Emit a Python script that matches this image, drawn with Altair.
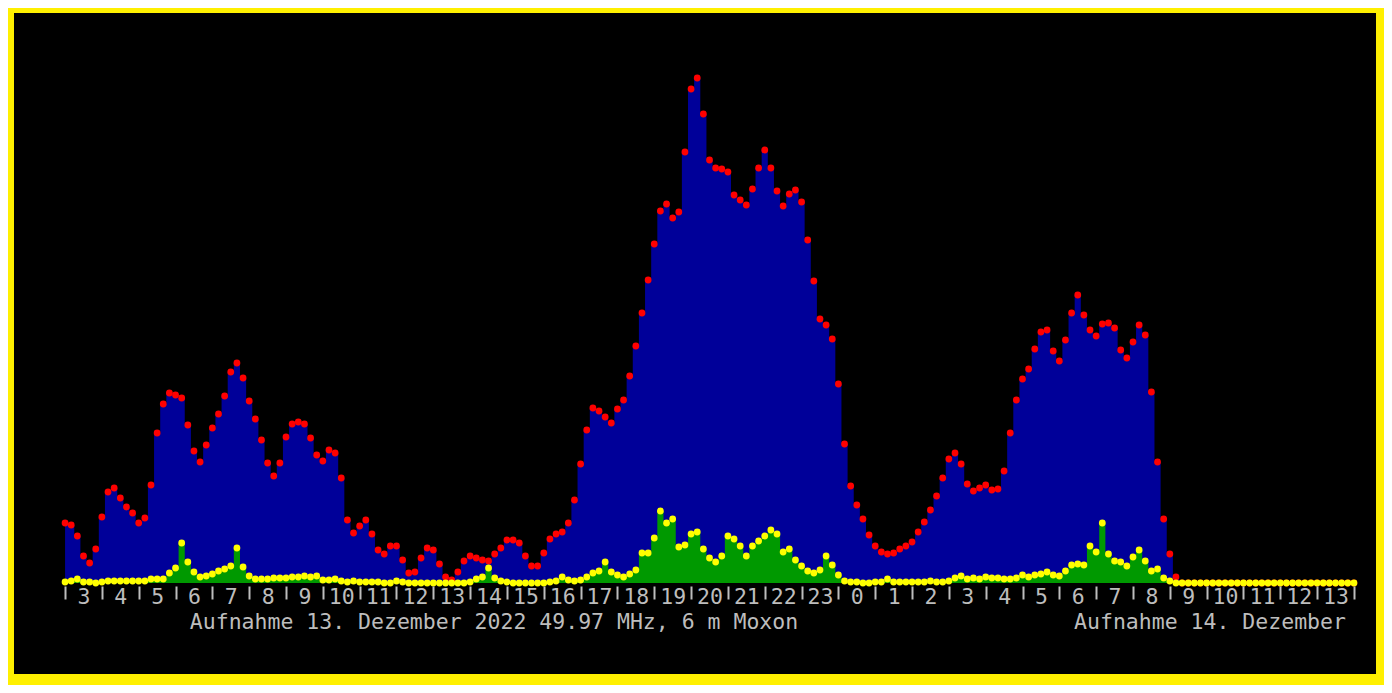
import json
import altair as alt
import pandas as pd

# 10-minute bins starting 13 Dec 03:00 local, ending 14 Dec 14:00
hour_labels = ["3", "4", "5", "6", "7", "8", "9", "10", "11", "12", "13", "14", "15", "16",
               "17", "18", "19", "20", "21", "22", "23", "0", "1", "2", "3", "4", "5", "6",
               "7", "8", "9", "10", "11", "12", "13"]

# all echoes (blue) per bin
total_counts = [
    60, 58, 47, 27, 20, 34, 66, 91, 95, 85,
    76, 70, 60, 65, 98, 150, 179, 190, 188, 185,
    158, 132, 121, 138, 155, 169, 187, 211, 220, 205,
    182, 164, 143, 120, 107, 120, 146, 159, 161, 159,
    145, 128, 122, 133, 130, 105, 63, 50, 57, 63,
    49, 33, 29, 37, 37, 23, 10, 11, 25, 35,
    33, 19, 6, 3, 11, 22, 27, 25, 23, 22,
    29, 35, 43, 43, 40, 27, 17, 17, 30, 44,
    49, 51, 60, 83, 119, 153, 175, 172, 166, 160,
    174, 183, 207, 237, 270, 303, 339, 372, 379, 365,
    371, 431, 494, 505, 469, 423, 415, 414, 411, 388,
    383, 378, 394, 415, 433, 415, 392, 377, 389, 393,
    381, 343, 302, 264, 258, 244, 199, 139, 97, 78,
    64, 48, 37, 31, 29, 30, 34, 37, 41, 51,
    61, 73, 87, 105, 124, 130, 119, 99, 92, 95,
    98, 93, 94, 112, 150, 183, 204, 214, 234, 251,
    253, 232, 222, 243, 270, 288, 268, 253, 247, 259,
    260, 255, 233, 225, 241, 258, 248, 191, 121, 64,
    29, 6, 0, 0, 0, 0, 0, 0, 0, 0,
    0, 0, 0, 0, 0, 0, 0, 0, 0, 0,
    0, 0, 0, 0, 0, 0, 0, 0, 0, 0,
    0,
]

# strong echoes (green) per bin
strong_counts = [
    1, 2, 4, 1, 1, 0, 1, 2, 2, 2,
    2, 2, 2, 2, 4, 4, 4, 10, 15, 40,
    21, 11, 6, 7, 9, 12, 14, 17, 35, 16,
    7, 4, 4, 4, 5, 5, 5, 6, 6, 7,
    6, 7, 3, 3, 4, 2, 1, 2, 1, 1,
    1, 1, 0, 0, 2, 1, 0, 0, 0, 0,
    0, 0, 0, 0, 0, 0, 1, 4, 6, 15,
    5, 2, 1, 0, 0, 0, 0, 0, 0, 1,
    2, 6, 3, 2, 3, 6, 10, 12, 21, 11,
    8, 6, 9, 13, 30, 30, 45, 72, 60, 64,
    36, 38, 49, 51, 34, 25, 21, 27, 47, 44,
    37, 27, 37, 42, 47, 53, 49, 31, 34, 23,
    17, 12, 10, 13, 27, 18, 8, 2, 1, 1,
    0, 0, 1, 1, 4, 1, 1, 1, 1, 1,
    1, 2, 1, 1, 2, 5, 7, 4, 5, 4,
    6, 5, 5, 4, 4, 5, 8, 6, 8, 9,
    11, 8, 7, 12, 18, 19, 18, 37, 31, 60,
    29, 22, 21, 17, 26, 33, 22, 12, 14, 5,
    2, 0, 0, 0, 0, 0, 0, 0, 0, 0,
    0, 0, 0, 0, 0, 0, 0, 0, 0, 0,
    0, 0, 0, 0, 0, 0, 0, 0, 0, 0,
    0,
]

caption_left = "Aufnahme 13. Dezember 2022 49.97 MHz, 6 m Moxon"
caption_right = "Aufnahme 14. Dezember"

df = pd.DataFrame({
    "bin": list(range(len(total_counts))),
    "total": total_counts,
    "strong": strong_counts,
})

n = len(total_counts)
FONT = "DejaVu Sans Mono"
GREY = "#bdbdbd"

label_expr = (
    "datum.value % 6 === 3 ? " + json.dumps(hour_labels)
    + "[floor(datum.value / 6)] : ''"
)

x_enc = alt.X(
    "bin:Q",
    scale=alt.Scale(domain=[-0.5, n - 0.5], nice=False, zero=False),
    axis=alt.Axis(
        values=list(range(0, n, 3)),
        labelExpr=label_expr,
        title=None,
        domain=False,
        grid=False,
        offset=3,
        tickSize=13,
        tickWidth=2,
        tickColor={"condition": {"test": "datum.value % 6 === 0", "value": GREY},
                   "value": "transparent"},
        labelPadding=-13,
        labelFont=FONT,
        labelFontSize=21.5,
        labelColor=GREY,
        labelOverlap=False,
        labelFlush=False,
        labelBound=False,
        zindex=2,
    ),
)
y_scale = alt.Scale(domain=[0, 520], nice=False, zero=True)

base = alt.Chart(df)

bg = alt.Chart(pd.DataFrame({"a": [0]})).mark_rect(color="#000000").encode(
    x=alt.value(-48), x2=alt.value(1314), y=alt.value(-50), y2=alt.value(611)
)

blue_area = base.mark_area(interpolate="step", color="#000099").encode(
    x=x_enc, y=alt.Y("total:Q", scale=y_scale, axis=None)
)
green_area = base.mark_area(interpolate="step", color="#009900").encode(
    x=x_enc, y=alt.Y("strong:Q", scale=y_scale, axis=None)
)
red_dots = base.mark_circle(color="#ff0000", size=46, opacity=1).encode(
    x=x_enc, y=alt.Y("total:Q", scale=y_scale, axis=None)
)
yellow_dots = base.mark_circle(color="#ffff00", size=46, opacity=1).encode(
    x=x_enc, y=alt.Y("strong:Q", scale=y_scale, axis=None)
)

cap1 = alt.Chart(pd.DataFrame({"t": [caption_left]})).mark_text(
    font=FONT, fontSize=21.5, color=GREY, align="center", baseline="alphabetic"
).encode(text="t:N", x=alt.value(432), y=alt.value(566))
cap2 = alt.Chart(pd.DataFrame({"t": [caption_right]})).mark_text(
    font=FONT, fontSize=21.5, color=GREY, align="center", baseline="alphabetic"
).encode(text="t:N", x=alt.value(1148), y=alt.value(566))

chart = alt.layer(
    bg, blue_area, green_area, red_dots, yellow_dots, cap1, cap2
).properties(
    width=1295,
    height=520,
    autosize=alt.AutoSizeParams(type="none"),
    padding={"left": 54, "top": 55, "right": 27, "bottom": 102},
    background="#fff000",
).configure_view(strokeWidth=0)

chart.save("out.html", embed_options={"renderer": "svg", "actions": False})
